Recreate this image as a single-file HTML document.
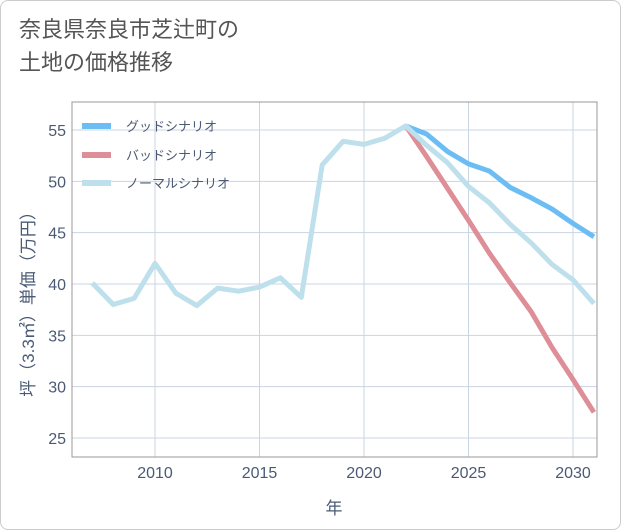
<!DOCTYPE html>
<html><head><meta charset="utf-8">
<style>
body{margin:0;background:#fff;font-family:"Liberation Sans","Noto Sans CJK JP",sans-serif;}
#wrap{position:relative;width:619px;height:528px;border:1px solid #ccc;border-radius:8px;background:#fff;overflow:hidden}
h1{position:absolute;left:18px;top:12px;margin:0;font-weight:normal;font-size:22px;line-height:33px;color:#555;}
</style></head><body>
<div id="wrap">
<h1>奈良県奈良市芝辻町の<br>土地の価格推移</h1>
<svg id="chart" width="621" height="530" style="position:absolute;left:-1px;top:-1px"></svg>
</div>
<script>
const years=[2007,2008,2009,2010,2011,2012,2013,2014,2015,2016,2017,2018,2019,2020,2021,2022,2023,2024,2025,2026,2027,2028,2029,2030,2031];
const normal=[40.1,38.0,38.6,42.0,39.1,37.9,39.6,39.3,39.7,40.6,38.7,51.6,53.9,53.6,54.2,55.4,53.5,51.8,49.5,47.9,45.8,44.0,41.9,40.4,38.1];
const futureYears=[2022,2023,2024,2025,2026,2027,2028,2029,2030,2031];
const good=[55.4,54.6,52.9,51.7,51.0,49.4,48.4,47.3,45.9,44.6];
const bad=[55.4,52.4,49.3,46.2,43.0,40.1,37.3,33.8,30.7,27.5];
const xTicks=[2010,2015,2020,2025,2030];
const yTicks=[25,30,35,40,45,50,55];
const NS="http://www.w3.org/2000/svg";
const svg=document.getElementById('chart');
const L=72,R=597,T=102,B=457;
const x=v=>155+(v-2010)*20.9;
const y=v=>130+(55-v)*10.267;
function mk(t,a){const e=document.createElementNS(NS,t);for(const k in a)e.setAttribute(k,a[k]);svg.appendChild(e);return e;}
const defs=mk('defs',{});
const cp=document.createElementNS(NS,'clipPath');cp.setAttribute('id','clip');
const cr=document.createElementNS(NS,'rect');cr.setAttribute('x',L);cr.setAttribute('y',T);cr.setAttribute('width',R-L);cr.setAttribute('height',B-T);
cp.appendChild(cr);defs.appendChild(cp);
for(const t of xTicks){
 const g=mk('line',{x1:x(t),x2:x(t),y1:T,y2:B,stroke:'#c9d5e2','stroke-width':1});
 
 const l=mk('text',{x:x(t),y:478,'text-anchor':'middle','font-size':16,fill:'#4a5a75'});l.textContent=t;
 
}
for(const t of yTicks){
 const g=mk('line',{x1:L,x2:R,y1:y(t),y2:y(t),stroke:'#c9d5e2','stroke-width':1});
 
 const l=mk('text',{x:66,y:y(t)+6,'text-anchor':'end','font-size':16,fill:'#4a5a75'});l.textContent=t;
 
}
const fr=mk('rect',{x:L,y:T,width:R-L,height:B-T,fill:'none',stroke:'#999','stroke-width':1});

function line(xs,vs,col,name){
 const p=mk('polyline',{points:xs.map((v,i)=>x(v)+','+y(vs[i])).join(' '),fill:'none',stroke:col,'stroke-width':5,'stroke-linejoin':'round','clip-path':'url(#clip)'});
 
}
line(futureYears,good,'#6cbdf3','good-scenario-line');
line(futureYears,bad,'#de8e96','bad-scenario-line');
line(years,normal,'#bde0ec','normal-scenario-line');
const leg=[['グッドシナリオ','#6cbdf3',126],['バッドシナリオ','#de8e96',155],['ノーマルシナリオ','#bde0ec',183]];
for(const [n,c,yy] of leg){
 const s=mk('line',{x1:82,x2:111,y1:yy,y2:yy,stroke:c,'stroke-width':6});
 
 const t=mk('text',{x:126,y:yy+5,'font-size':13,fill:'#4a5a75'});t.textContent=n;
 
}
const xt=mk('text',{x:334,y:514,'text-anchor':'middle','font-size':17,fill:'#4a5a75'});xt.textContent='年';

const yt=mk('text',{x:0,y:0,'text-anchor':'middle','font-size':17,fill:'#4a5a75',transform:'translate(34,300) rotate(-90)'});yt.textContent='坪（3.3㎡）単価（万円）';

</script>
</body></html>
